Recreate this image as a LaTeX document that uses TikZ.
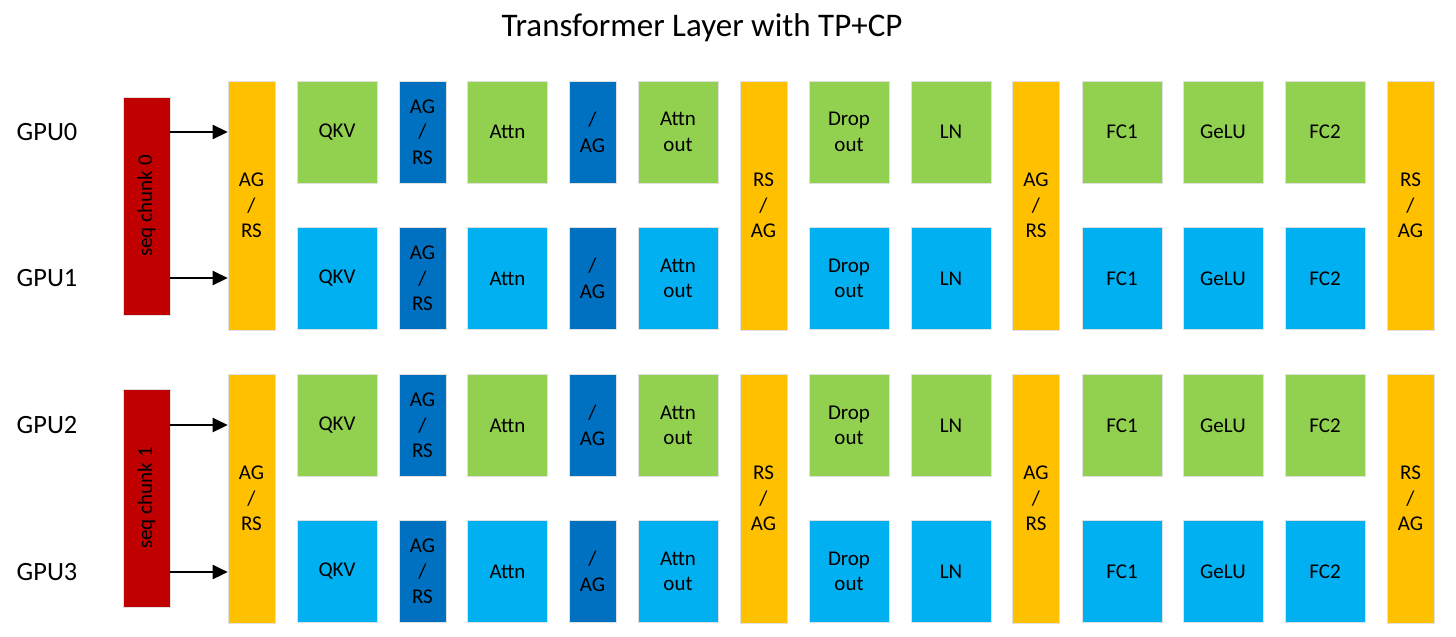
\documentclass[tikz,border=0pt]{standalone}
\usepackage{fontspec}
\setmainfont{Carlito}
\usetikzlibrary{arrows.meta}
\definecolor{tcgreen}{HTML}{92D050}
\definecolor{tcblue}{HTML}{00B0F0}
\definecolor{tcdark}{HTML}{0070C0}
\definecolor{tcyellow}{HTML}{FFC000}
\definecolor{tcred}{HTML}{C00000}
\tikzset{
  tcbox/.style={draw=black!12, line width=0.3pt, align=center, inner sep=0pt,
    font=\fontsize{10.5}{12.8}\selectfont, minimum width=40pt, minimum height=51pt},
  tcupper/.style={tcbox, fill=tcgreen},
  tclower/.style={tcbox, fill=tcblue},
  tccomm/.style={tcbox, fill=tcdark, minimum width=23.5pt},
  tcsync/.style={tcbox, fill=tcyellow, minimum width=23.5pt, minimum height=124.5pt},
  tcseq/.style={tcbox, fill=tcred, minimum width=23.5pt, minimum height=109pt},
  tcgpu/.style={font=\fontsize{13.2}{16}\selectfont, inner sep=0pt},
  tcarrow/.style={-{Triangle[length=7.5pt,width=7pt]}, line width=1.3pt}
}

\begin{document}
\begin{tikzpicture}[x=0.5pt, y=-0.5pt]
  \useasboundingbox (0,0) rectangle (1456,637);
  \node[font=\fontsize{16.5}{20}\selectfont] (title) at (702,28) {Transformer Layer with TP+CP};
  % first sequence chunk: GPU0 and GPU1
  \node[tcgpu] (g0) at (47,132) {GPU0};
  \node[tcgpu] (g1) at (47,278) {GPU1};
  \node[tcseq] (seq0) at (146.5,206) {\rotatebox{90}{seq chunk 0}};
  \node[tcsync] (sa0) at (251.5,205.5) {AG\\/\\RS};
  \node[tcsync] (sb0) at (763.5,205.5) {RS\\/\\AG};
  \node[tcsync] (sc0) at (1036,205.5) {AG\\/\\RS};
  \node[tcsync] (sd0) at (1410.5,205.5) {RS\\/\\AG};
  \node[tcupper] (qkv0) at (337,132) {QKV};
  \node[tccomm] (agrs0) at (422.5,132) {AG\\/\\RS};
  \node[tcupper] (attn0) at (507.5,132) {Attn};
  \node[tccomm] (ag0) at (592.5,132) {/\\AG};
  \node[tcupper] (aout0) at (678,132) {Attn\\out};
  \node[tcupper] (drop0) at (849,132) {Drop\\out};
  \node[tcupper] (ln0) at (951,132) {LN};
  \node[tcupper] (fca0) at (1122,132) {FC1};
  \node[tcupper] (gelu0) at (1223,132) {GeLU};
  \node[tcupper] (fcb0) at (1325,132) {FC2};
  \node[tclower] (qkv1) at (337,278.5) {QKV};
  \node[tccomm] (agrs1) at (422.5,278.5) {AG\\/\\RS};
  \node[tclower] (attn1) at (507.5,278.5) {Attn};
  \node[tccomm] (ag1) at (592.5,278.5) {/\\AG};
  \node[tclower] (aout1) at (678,278.5) {Attn\\out};
  \node[tclower] (drop1) at (849,278.5) {Drop\\out};
  \node[tclower] (ln1) at (951,278.5) {LN};
  \node[tclower] (fca1) at (1122,278.5) {FC1};
  \node[tclower] (gelu1) at (1223,278.5) {GeLU};
  \node[tclower] (fcb1) at (1325,278.5) {FC2};
  % second sequence chunk: GPU2 and GPU3
  \node[tcgpu] (g2) at (47,425) {GPU2};
  \node[tcgpu] (g3) at (47,572) {GPU3};
  \node[tcseq] (seq1) at (146.5,498) {\rotatebox{90}{seq chunk 1}};
  \node[tcsync] (sa1) at (251.5,498.5) {AG\\/\\RS};
  \node[tcsync] (sb1) at (763.5,498.5) {RS\\/\\AG};
  \node[tcsync] (sc1) at (1036,498.5) {AG\\/\\RS};
  \node[tcsync] (sd1) at (1410.5,498.5) {RS\\/\\AG};
  \node[tcupper] (qkv2) at (337,425.5) {QKV};
  \node[tccomm] (agrs2) at (422.5,425.5) {AG\\/\\RS};
  \node[tcupper] (attn2) at (507.5,425.5) {Attn};
  \node[tccomm] (ag2) at (592.5,425.5) {/\\AG};
  \node[tcupper] (aout2) at (678,425.5) {Attn\\out};
  \node[tcupper] (drop2) at (849,425.5) {Drop\\out};
  \node[tcupper] (ln2) at (951,425.5) {LN};
  \node[tcupper] (fca2) at (1122,425.5) {FC1};
  \node[tcupper] (gelu2) at (1223,425.5) {GeLU};
  \node[tcupper] (fcb2) at (1325,425.5) {FC2};
  \node[tclower] (qkv3) at (337,571.5) {QKV};
  \node[tccomm] (agrs3) at (422.5,571.5) {AG\\/\\RS};
  \node[tclower] (attn3) at (507.5,571.5) {Attn};
  \node[tccomm] (ag3) at (592.5,571.5) {/\\AG};
  \node[tclower] (aout3) at (678,571.5) {Attn\\out};
  \node[tclower] (drop3) at (849,571.5) {Drop\\out};
  \node[tclower] (ln3) at (951,571.5) {LN};
  \node[tclower] (fca3) at (1122,571.5) {FC1};
  \node[tclower] (gelu3) at (1223,571.5) {GeLU};
  \node[tclower] (fcb3) at (1325,571.5) {FC2};
  \draw[tcarrow] (seq0.east |- g0) -- (sa0.west |- g0);
  \draw[tcarrow] (seq0.east |- g1) -- (sa0.west |- g1);
  \draw[tcarrow] (seq1.east |- g2) -- (sa1.west |- g2);
  \draw[tcarrow] (seq1.east |- g3) -- (sa1.west |- g3);
\end{tikzpicture}
\end{document}
